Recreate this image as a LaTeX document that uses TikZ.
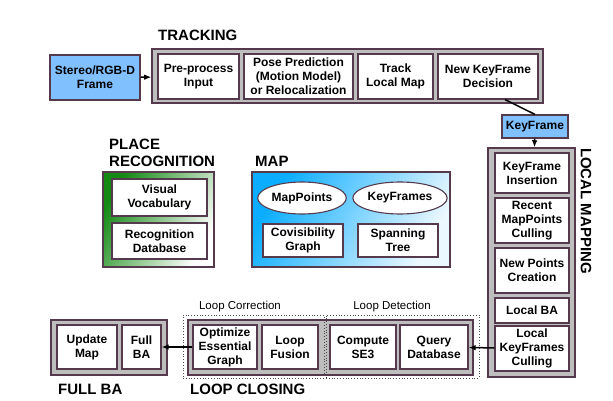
\documentclass[tikz,border=0pt]{standalone}
\usepackage{fontspec}
\setmainfont{Liberation Sans}
\usetikzlibrary{arrows.meta,positioning,shapes.geometric}
\definecolor{edge}{HTML}{553A4E}
\definecolor{panel}{HTML}{BEBEBE}
\definecolor{sky}{HTML}{80C0FF}
\definecolor{leaf}{HTML}{148A14}
\definecolor{ocean}{HTML}{0AADFF}
\definecolor{mist}{HTML}{ECF8FF}
\tikzset{stage/.style={draw=edge,fill=panel,line width=1.3pt},
  unit/.style={draw=edge,fill=white,line width=1.1pt,align=center,inner sep=1pt,
    font=\fontsize{12}{14}\selectfont\bfseries},
  frame/.style={unit,fill=sky},
  blob/.style={unit,ellipse,minimum width=87pt,minimum height=32pt},
  title/.style={inner sep=0pt,anchor=west,align=left,font=\fontsize{15}{17}\selectfont\bfseries},
  group/.style={draw=black!70,dotted,line width=0.8pt},
  sub/.style={inner sep=0pt,font=\fontsize{11.5}{13}\selectfont},
  arrow/.style={-{Latex[length=2.5mm,width=2mm]},line width=1.5pt,draw=black}}

\begin{document}
\begin{tikzpicture}[x=1pt,y=-1pt]
\useasboundingbox (0,0) rectangle (613,401);
% tracking
\node[title] (tracktitle) at (158,35) {TRACKING};
\node[stage,minimum width=391pt,minimum height=54pt] (tracking) at (347.5,76) {};
\node[frame,minimum width=90pt,minimum height=45pt] (stereo) at (95,77.5) {Stereo/RGB-D\\Frame};
\node[unit,minimum width=81pt,minimum height=45pt] (preproc) at (198.5,76.5) {Pre-process\\Input};
\node[unit,minimum width=109pt,minimum height=45pt] (posepred) at (298.5,76.5) {Pose Prediction\\(Motion Model)\\or Relocalization};
\node[unit,minimum width=75pt,minimum height=45pt] (tracklocal) at (395.5,76.5) {Track\\Local Map};
\node[unit,minimum width=100pt,minimum height=45pt] (newkf) at (488,76.5) {New KeyFrame\\Decision};
\node[frame,minimum width=66pt,minimum height=23pt] (keyframe) at (535,126.5) {KeyFrame};
% local mapping
\node[stage,minimum width=87pt,minimum height=229pt] (localmap) at (531.5,262.5) {};
\node[title,anchor=center,rotate=-90] (lmtitle) at (586,211) {LOCAL MAPPING};
\node[unit,minimum width=74pt,minimum height=40pt] (kfins) at (532,173) {KeyFrame\\Insertion};
\node[unit,minimum width=74pt,minimum height=45pt] (mpcull) at (532,220.5) {Recent\\MapPoints\\Culling};
\node[unit,minimum width=74pt,minimum height=45pt] (newpts) at (532,270.5) {New Points\\Creation};
\node[unit,minimum width=74pt,minimum height=25pt] (localba) at (532,310.5) {Local BA};
\node[unit,minimum width=74pt,minimum height=45pt] (kfcull) at (532,348.5) {Local\\KeyFrames\\Culling};
% loop closing
\node[stage,minimum width=285pt,minimum height=55pt] (loopclose) at (330.5,347.5) {};
\node[unit,minimum width=64pt,minimum height=44pt] (optess) at (225,347) {Optimize\\Essential\\Graph};
\node[unit,minimum width=56pt,minimum height=44pt] (loopfus) at (290,347) {Loop\\Fusion};
\node[unit,minimum width=66pt,minimum height=44pt] (compse) at (363,347) {Compute\\SE3};
\node[unit,minimum width=68pt,minimum height=44pt] (querydb) at (434,347) {Query\\Database};
\node[group,minimum width=141pt,minimum height=63pt] (corr) at (253.5,346.5) {};
\node[group,minimum width=153pt,minimum height=63pt] (detect) at (402.5,346.5) {};
\node[sub] (corrlabel) at (240,307) {Loop Correction};
\node[sub] (detectlabel) at (392,307) {Loop Detection};
\node[title] (lctitle) at (190,389) {LOOP CLOSING};
% full BA
\node[stage,minimum width=116pt,minimum height=55pt] (fullba) at (109,347.5) {};
\node[unit,minimum width=60pt,minimum height=44pt] (updmap) at (87,347) {Update\\Map};
\node[unit,minimum width=39pt,minimum height=44pt] (fullbain) at (141.5,347) {Full\\BA};
\node[title] (fbtitle) at (58,389) {FULL BA};
% place recognition
\node[title] (prtitle) at (109,152.5) {PLACE\\RECOGNITION};
\node[draw=edge,line width=1.3pt,minimum width=111pt,minimum height=95pt,
  left color=leaf,right color=white,shading angle=60] (placerec) at (158.5,219.5) {};
\node[unit,minimum width=95pt,minimum height=37pt] (vocab) at (159.5,197.5) {Visual\\Vocabulary};
\node[unit,minimum width=95pt,minimum height=36pt] (recdb) at (159.5,241) {Recognition\\Database};
% map
\node[title] (maptitle) at (255,161) {MAP};
\node[draw=edge,line width=1.3pt,minimum width=198pt,minimum height=95pt,
  left color=ocean,right color=mist,shading angle=60] (map) at (351,219.5) {};
\node[blob] (mappts) at (302,198) {MapPoints};
\node[blob] (keyfrms) at (400,198) {KeyFrames};
\node[unit,minimum width=80pt,minimum height=33pt] (covis) at (303,240.5) {Covisibility\\Graph};
\node[unit,minimum width=80pt,minimum height=33pt] (spantree) at (398,240.5) {Spanning\\Tree};
% connectors
\draw[arrow] (stereo) -- (tracking);
\draw[line width=1.5pt] ([xshift=17pt]newkf.south) -- (keyframe.north);
\draw[arrow] (keyframe) -- (localmap);
\draw[arrow] (kfcull) -- (querydb);
\draw[arrow] (optess) -- (fullbain);
\end{tikzpicture}
\end{document}
